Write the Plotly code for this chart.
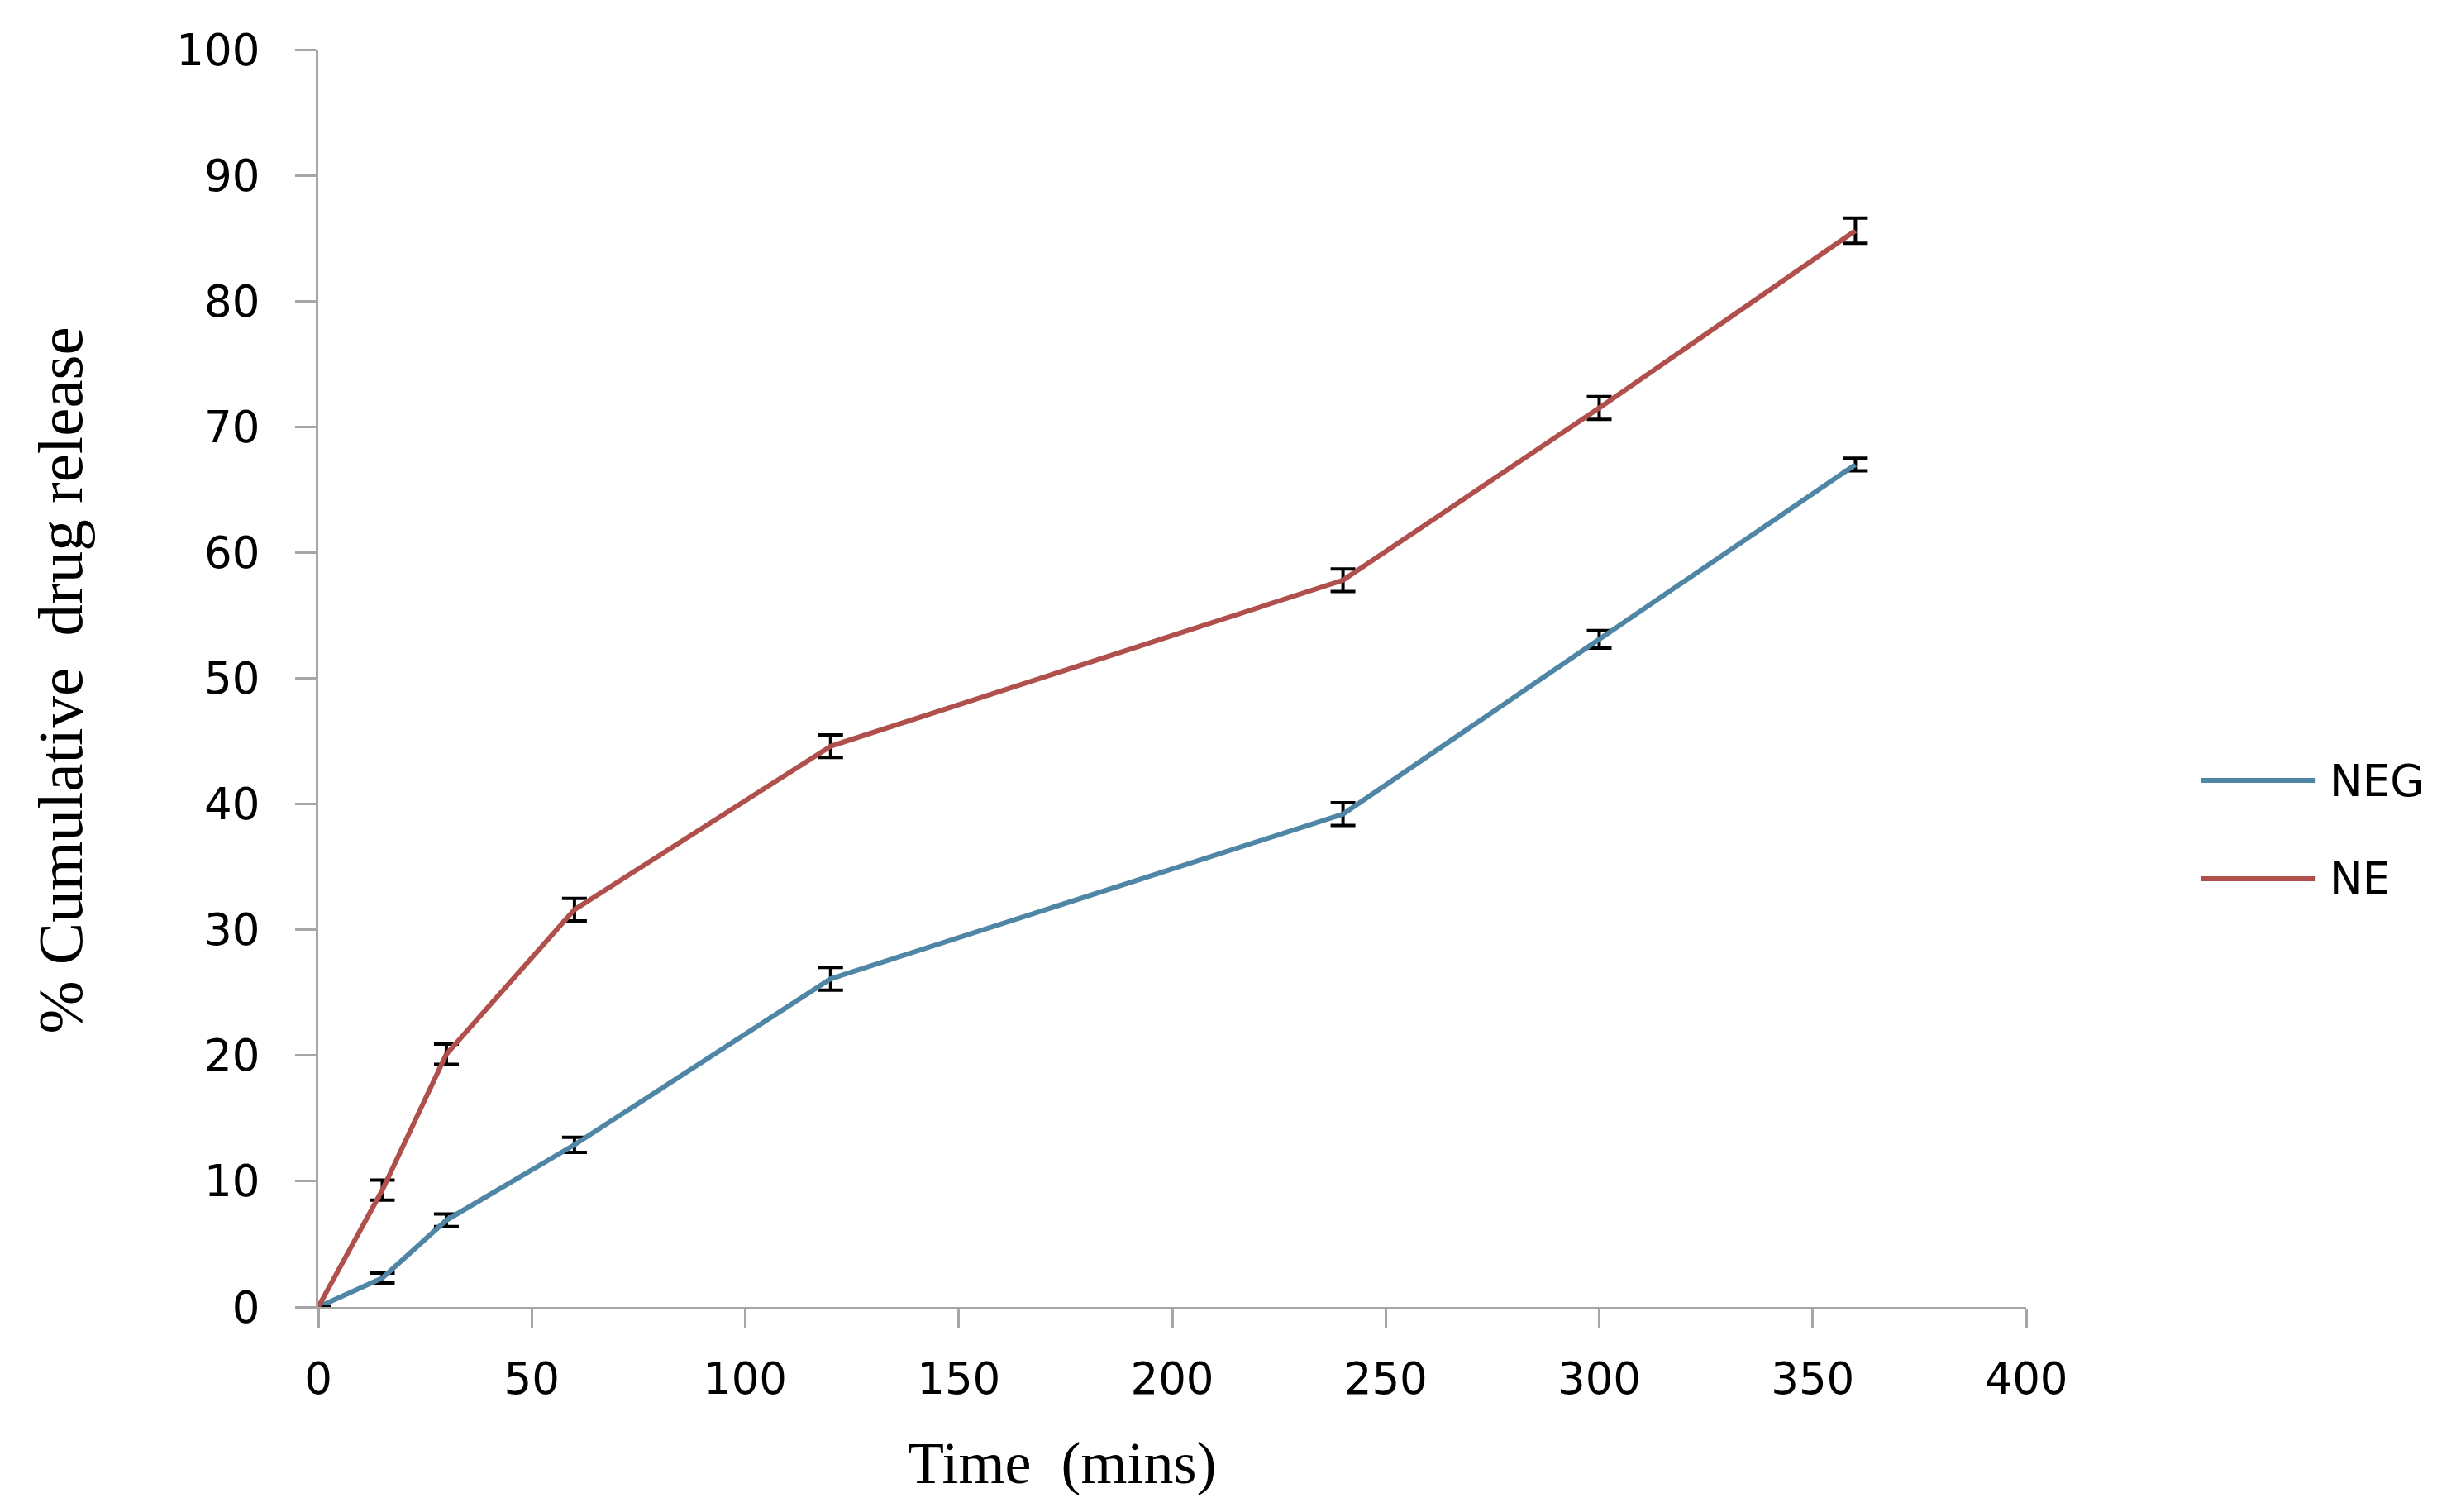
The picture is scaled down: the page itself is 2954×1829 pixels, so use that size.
import plotly.graph_objects as go

time_min = [0, 15, 30, 60, 120, 240, 300, 360]
neg_release = [0, 2.3, 6.9, 12.9, 26.1, 39.2, 53.1, 67.0]
neg_err = [0, 0.4, 0.5, 0.6, 0.9, 0.9, 0.7, 0.5]
ne_release = [0, 9.3, 20.1, 31.6, 44.6, 57.8, 71.5, 85.6]
ne_err = [0, 0.8, 0.8, 0.9, 0.9, 0.9, 0.9, 1.0]

x_ticks = [0, 50, 100, 150, 200, 250, 300, 350, 400]
y_ticks = [0, 10, 20, 30, 40, 50, 60, 70, 80, 90, 100]

series_names = ["NEG", "NE"]
NEG_COLOR = "#4f85a5"
NE_COLOR = "#b0504d"
AXIS_COLOR = "#a6a6a6"

fig = go.Figure()
fig.add_trace(go.Scatter(
    x=time_min, y=neg_release, mode="lines", name=series_names[0],
    line=dict(color=NEG_COLOR, width=6),
    error_y=dict(type="data", array=neg_err, visible=True, color="black", thickness=4, width=15),
    showlegend=False,
))
fig.add_trace(go.Scatter(
    x=time_min, y=ne_release, mode="lines", name=series_names[1],
    line=dict(color=NE_COLOR, width=6),
    error_y=dict(type="data", array=ne_err, visible=True, color="black", thickness=4, width=15),
    showlegend=False,
))

# Legend drawn in paper coordinates (long legend lines as in the reference)
legend_y = [0.4188, 0.3406]
legend_colors = [NEG_COLOR, NE_COLOR]
shapes = []
annotations = []
for name, ly, col in zip(series_names, legend_y, legend_colors):
    shapes.append(dict(type="line", xref="paper", yref="paper", x0=1.1026, x1=1.169,
                       y0=ly, y1=ly, line=dict(color=col, width=6)))
    annotations.append(dict(text=name, xref="paper", yref="paper", x=1.1767, y=ly,
                            xanchor="left", yanchor="middle", showarrow=False,
                            font=dict(family="DejaVu Sans", size=53, color="black")))

annotations += [
    dict(text="Time  (mins)", xref="paper", yref="paper", x=0.4356, y=-0.124,
         xanchor="center", yanchor="middle", showarrow=False,
         font=dict(family="Liberation Serif", size=72, color="black")),
    dict(text="% Cumulative  drug release", xref="paper", yref="paper", x=-0.151, y=0.498,
         xanchor="center", yanchor="middle", showarrow=False, textangle=-90,
         font=dict(family="Liberation Serif", size=77, color="black")),
]

fig.update_layout(
    width=2954, height=1829,
    paper_bgcolor="white", plot_bgcolor="white",
    margin=dict(l=377, r=511, t=52, b=256),
    font=dict(family="DejaVu Sans", size=53, color="black"),
    showlegend=False,
    xaxis=dict(
        range=[0, 400], tickvals=x_ticks, ticktext=[str(v) for v in x_ticks],
        showgrid=False, zeroline=False, showline=True, linecolor=AXIS_COLOR, linewidth=3,
        ticks="outside", ticklen=22, tickwidth=3, tickcolor=AXIS_COLOR,
        ticklabelstandoff=16, tickfont=dict(size=53),
    ),
    yaxis=dict(
        range=[0, 100], tickvals=y_ticks, ticktext=[str(v) for v in y_ticks],
        showgrid=False, zeroline=False, showline=True, linecolor=AXIS_COLOR, linewidth=3,
        ticks="outside", ticklen=25, tickwidth=3, tickcolor=AXIS_COLOR,
        ticklabelstandoff=32, tickfont=dict(size=53),
    ),
    shapes=shapes,
    annotations=annotations,
)

fig.write_html("out.html")
